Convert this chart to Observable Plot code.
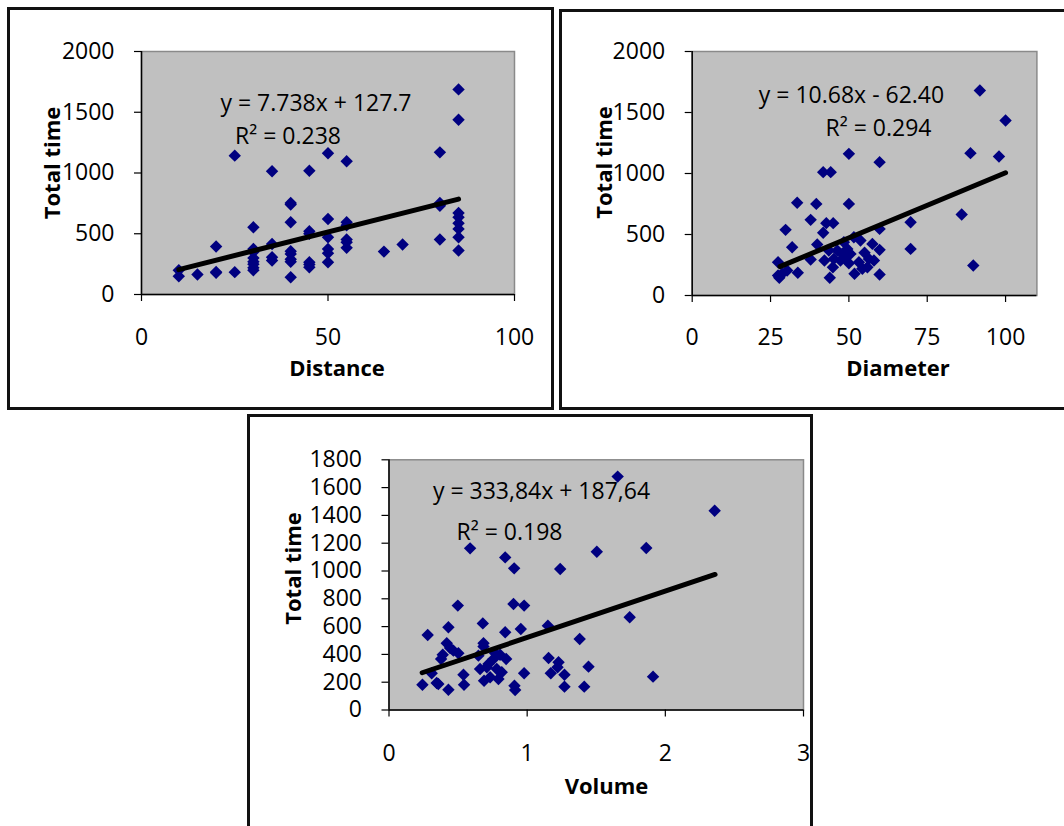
<!DOCTYPE html>
<html><head><meta charset="utf-8">
<script src="https://cdn.jsdelivr.net/npm/d3@7"></script>
<script src="https://cdn.jsdelivr.net/npm/@observablehq/plot@0.6"></script>
<style>
html,body{margin:0;padding:0;background:#fff;}
#page{position:relative;width:1064px;height:826px;overflow:hidden;font-family:"Open Sans",sans-serif;}
.chart{position:absolute;}
.box{position:absolute;box-sizing:border-box;border:3px solid #111;}
</style></head><body><div id="page"></div>
<script>
// ---------- Data ----------
const distance = [10,10,15,20,20,20,25,25,30,30,30,30,30,30,30,30,35,35,35,35,40,40,40,40,40,40,40,40,45,45,45,45,45,45,50,50,50,50,50,50,55,55,55,55,55,55,65,70,80,80,80,80,85,85,85,85,85,85,85,85];
const distanceTime = [200,150,165,178,185,395,184,1143,553,375,350,300,270,250,220,200,416,307,280,1014,753,740,594,356,334,290,270,142,1019,520,500,266,247,225,1162,622,471,375,340,266,1096,594,570,452,430,384,353,411,1170,753,730,452,1688,1438,671,636,586,540,471,362];
const distanceTrendX = [10, 85];
const distanceTrendY = [205, 785];

const diameter = [27.4,27.4,27.8,28.7,29.8,30.3,31.9,33.5,33.7,37.8,37.8,39.6,39.9,41.8,41.8,42.2,42.8,44.2,45,43.6,43.9,44.9,45.2,46.3,47.3,47.9,48.4,48.9,49.5,50,50,50,50.5,51.6,51.8,53.2,53.7,54.3,55,55.9,56.4,57.5,58,59.8,59.8,59.8,59.8,69.7,69.7,86,88.8,89.7,91.8,97.9,100];
const diameterTime = [273,164,145,178,538,205,396,760,186,620,295,751,418,514,1011,287,593,1011,593,369,145,232,300,369,287,341,437,314,382,1161,751,265,341,478,178,273,451,219,350,232,300,423,287,1093,546,374,172,601,382,664,1167,246,1680,1139,1434];
const diameterTrendX = [28, 100];
const diameterTrendY = [237, 1006];

const volume = [0.242,0.28,0.309,0.345,0.357,0.377,0.389,0.418,0.43,0.43,0.442,0.466,0.498,0.502,0.539,0.543,0.587,0.647,0.659,0.679,0.684,0.684,0.688,0.708,0.72,0.732,0.756,0.768,0.78,0.792,0.804,0.816,0.841,0.841,0.848,0.901,0.906,0.908,0.913,0.954,0.978,0.978,1.15,1.155,1.171,1.227,1.239,1.22,1.27,1.27,1.38,1.413,1.444,1.504,1.655,1.742,1.862,1.911,2.357];
const volumeTime = [182,540,264,194,187,367,398,480,595,146,446,427,751,408,254,182,1163,391,295,623,480,456,211,307,331,235,367,408,295,223,398,271,1098,559,367,763,1019,175,144,583,751,264,607,374,264,343,1014,307,254,168,511,168,312,1139,1679,667,1165,240,1434];
const volumeTrendX = [0.24, 2.36];
const volumeTrendY = [268, 975];

const ticksDistance = [0, 50, 100];
const ticksDiameter = [0, 25, 50, 75, 100];
const ticksVolume = [0, 1, 2, 3];
const ticksTime2000 = [0, 500, 1000, 1500, 2000];
const ticksTime1800 = [0, 200, 400, 600, 800, 1000, 1200, 1400, 1600, 1800];

// ---------- Drawing ----------
const FONT = "'Open Sans', sans-serif";
const page = document.getElementById("page");

function chart(cfg) {
  const pts = cfg.xs.map((x, i) => ({x, y: cfg.ys[i]}));
  const trend = cfg.tx.map((x, i) => ({x, y: cfg.ty[i]}));
  const svg = Plot.plot({
    width: cfg.width, height: cfg.height,
    marginLeft: cfg.m[0], marginRight: cfg.m[1], marginTop: cfg.m[2], marginBottom: cfg.m[3],
    style: {background: "transparent", fontFamily: FONT, fontSize: "23px", color: "#000", overflow: "visible"},
    x: {domain: cfg.xDomain},
    y: {domain: cfg.yDomain},
    marks: [
      Plot.frame({fill: "#c0c0c0", stroke: "#8a8a8a", strokeWidth: 1.5}),
      Plot.axisX(cfg.xTicks, {tickSize: 7, tickPadding: cfg.xPad, label: null, tickFormat: d => String(d), strokeWidth: 1.2}),
      Plot.axisY(cfg.yTicks, {tickSize: 7, tickPadding: 20, label: null, tickFormat: d => String(d), strokeWidth: 1.2}),
      Plot.ruleX([cfg.xDomain[0]], {stroke: "#000", strokeWidth: 1.5}),
      Plot.ruleY([cfg.yDomain[0]], {stroke: "#000", strokeWidth: 1.5}),
      Plot.dot(pts, {x: "x", y: "y", r: 5.6, symbol: d3.symbolDiamond2, fill: "#000080", stroke: null}),
      Plot.line(trend, {x: "x", y: "y", stroke: "#000", strokeWidth: 5, strokeLinecap: "round"}),
      Plot.text([cfg.yTitle], {text: d => d, frameAnchor: "left", lineAnchor: "middle", rotate: -90, dx: cfg.yt[0], dy: cfg.yt[1], fontWeight: "bold", fontSize: 22, textAnchor: "middle"}),
      Plot.text([cfg.xTitle], {text: d => d, frameAnchor: "bottom", lineAnchor: "middle", dx: cfg.xt[0], dy: cfg.xt[1], fontWeight: "bold", fontSize: 22, textAnchor: "middle"}),
      Plot.text([cfg.eq], {text: d => d, frameAnchor: "top-left", lineAnchor: "middle", dx: cfg.eqPos[0], dy: cfg.eqPos[1], fontSize: 23, textAnchor: "middle"}),
      Plot.text([cfg.r2], {text: d => d, frameAnchor: "top-left", lineAnchor: "middle", dx: cfg.r2Pos[0], dy: cfg.r2Pos[1], fontSize: 23, textAnchor: "middle"})
    ]
  });
  svg.classList.add("chart");
  svg.style.left = cfg.left + "px";
  svg.style.top = cfg.top + "px";
  svg.style.maxWidth = "none";
  page.appendChild(svg);
}

chart({
  xs: distance, ys: distanceTime, tx: distanceTrendX, ty: distanceTrendY,
  left: 0, top: 0, width: 560, height: 415, m: [141, 46, 51, 121],
  xDomain: [0, 100], yDomain: [0, 2000], xTicks: ticksDistance, yTicks: ticksTime2000, xPad: 27,
  yTitle: "Total time", xTitle: "Distance",
  yt: [-89, -10], xt: [9, 74],
  eq: "y = 7.738x + 127.7", r2: "R² = 0.238",
  eqPos: [174.5, 52.3], r2Pos: [146.5, 85.3]
});

chart({
  xs: diameter, ys: diameterTime, tx: diameterTrendX, ty: diameterTrendY,
  left: 555, top: 0, width: 509, height: 415, m: [136.7, 27.6, 51, 120],
  xDomain: [0, 110], yDomain: [0, 2000], xTicks: ticksDiameter, yTicks: ticksTime2000, xPad: 26,
  yTitle: "Total time", xTitle: "Diameter",
  yt: [-87.7, -11], xt: [33.5, 73.5],
  eq: "y = 10.68x - 62.40", r2: "R² = 0.294",
  eqPos: [159.3, 43.7], r2Pos: [186.3, 77]
});

chart({
  xs: volume, ys: volumeTime, tx: volumeTrendX, ty: volumeTrendY,
  left: 240, top: 412, width: 584, height: 414, m: [148.5, 21, 47.3, 116.5],
  xDomain: [0, 3], yDomain: [0, 1800], xTicks: ticksVolume, yTicks: ticksTime1800, xPad: 28,
  yTitle: "Total time", xTitle: "Volume",
  yt: [-95.5, -16.4], xt: [10.25, 77],
  eq: "y = 333,84x + 187,64", r2: "R² = 0.198",
  eqPos: [152.5, 31.7], r2Pos: [120.5, 72.7]
});

// Boxes around each chart
[[7, 7, 547, 403], [559, 9, 520, 401], [247, 414, 566, 430]].forEach(([l, t, w, h]) => {
  const b = document.createElement("div");
  b.className = "box";
  Object.assign(b.style, {left: l + "px", top: t + "px", width: w + "px", height: h + "px"});
  page.appendChild(b);
});
</script>
</body></html>
